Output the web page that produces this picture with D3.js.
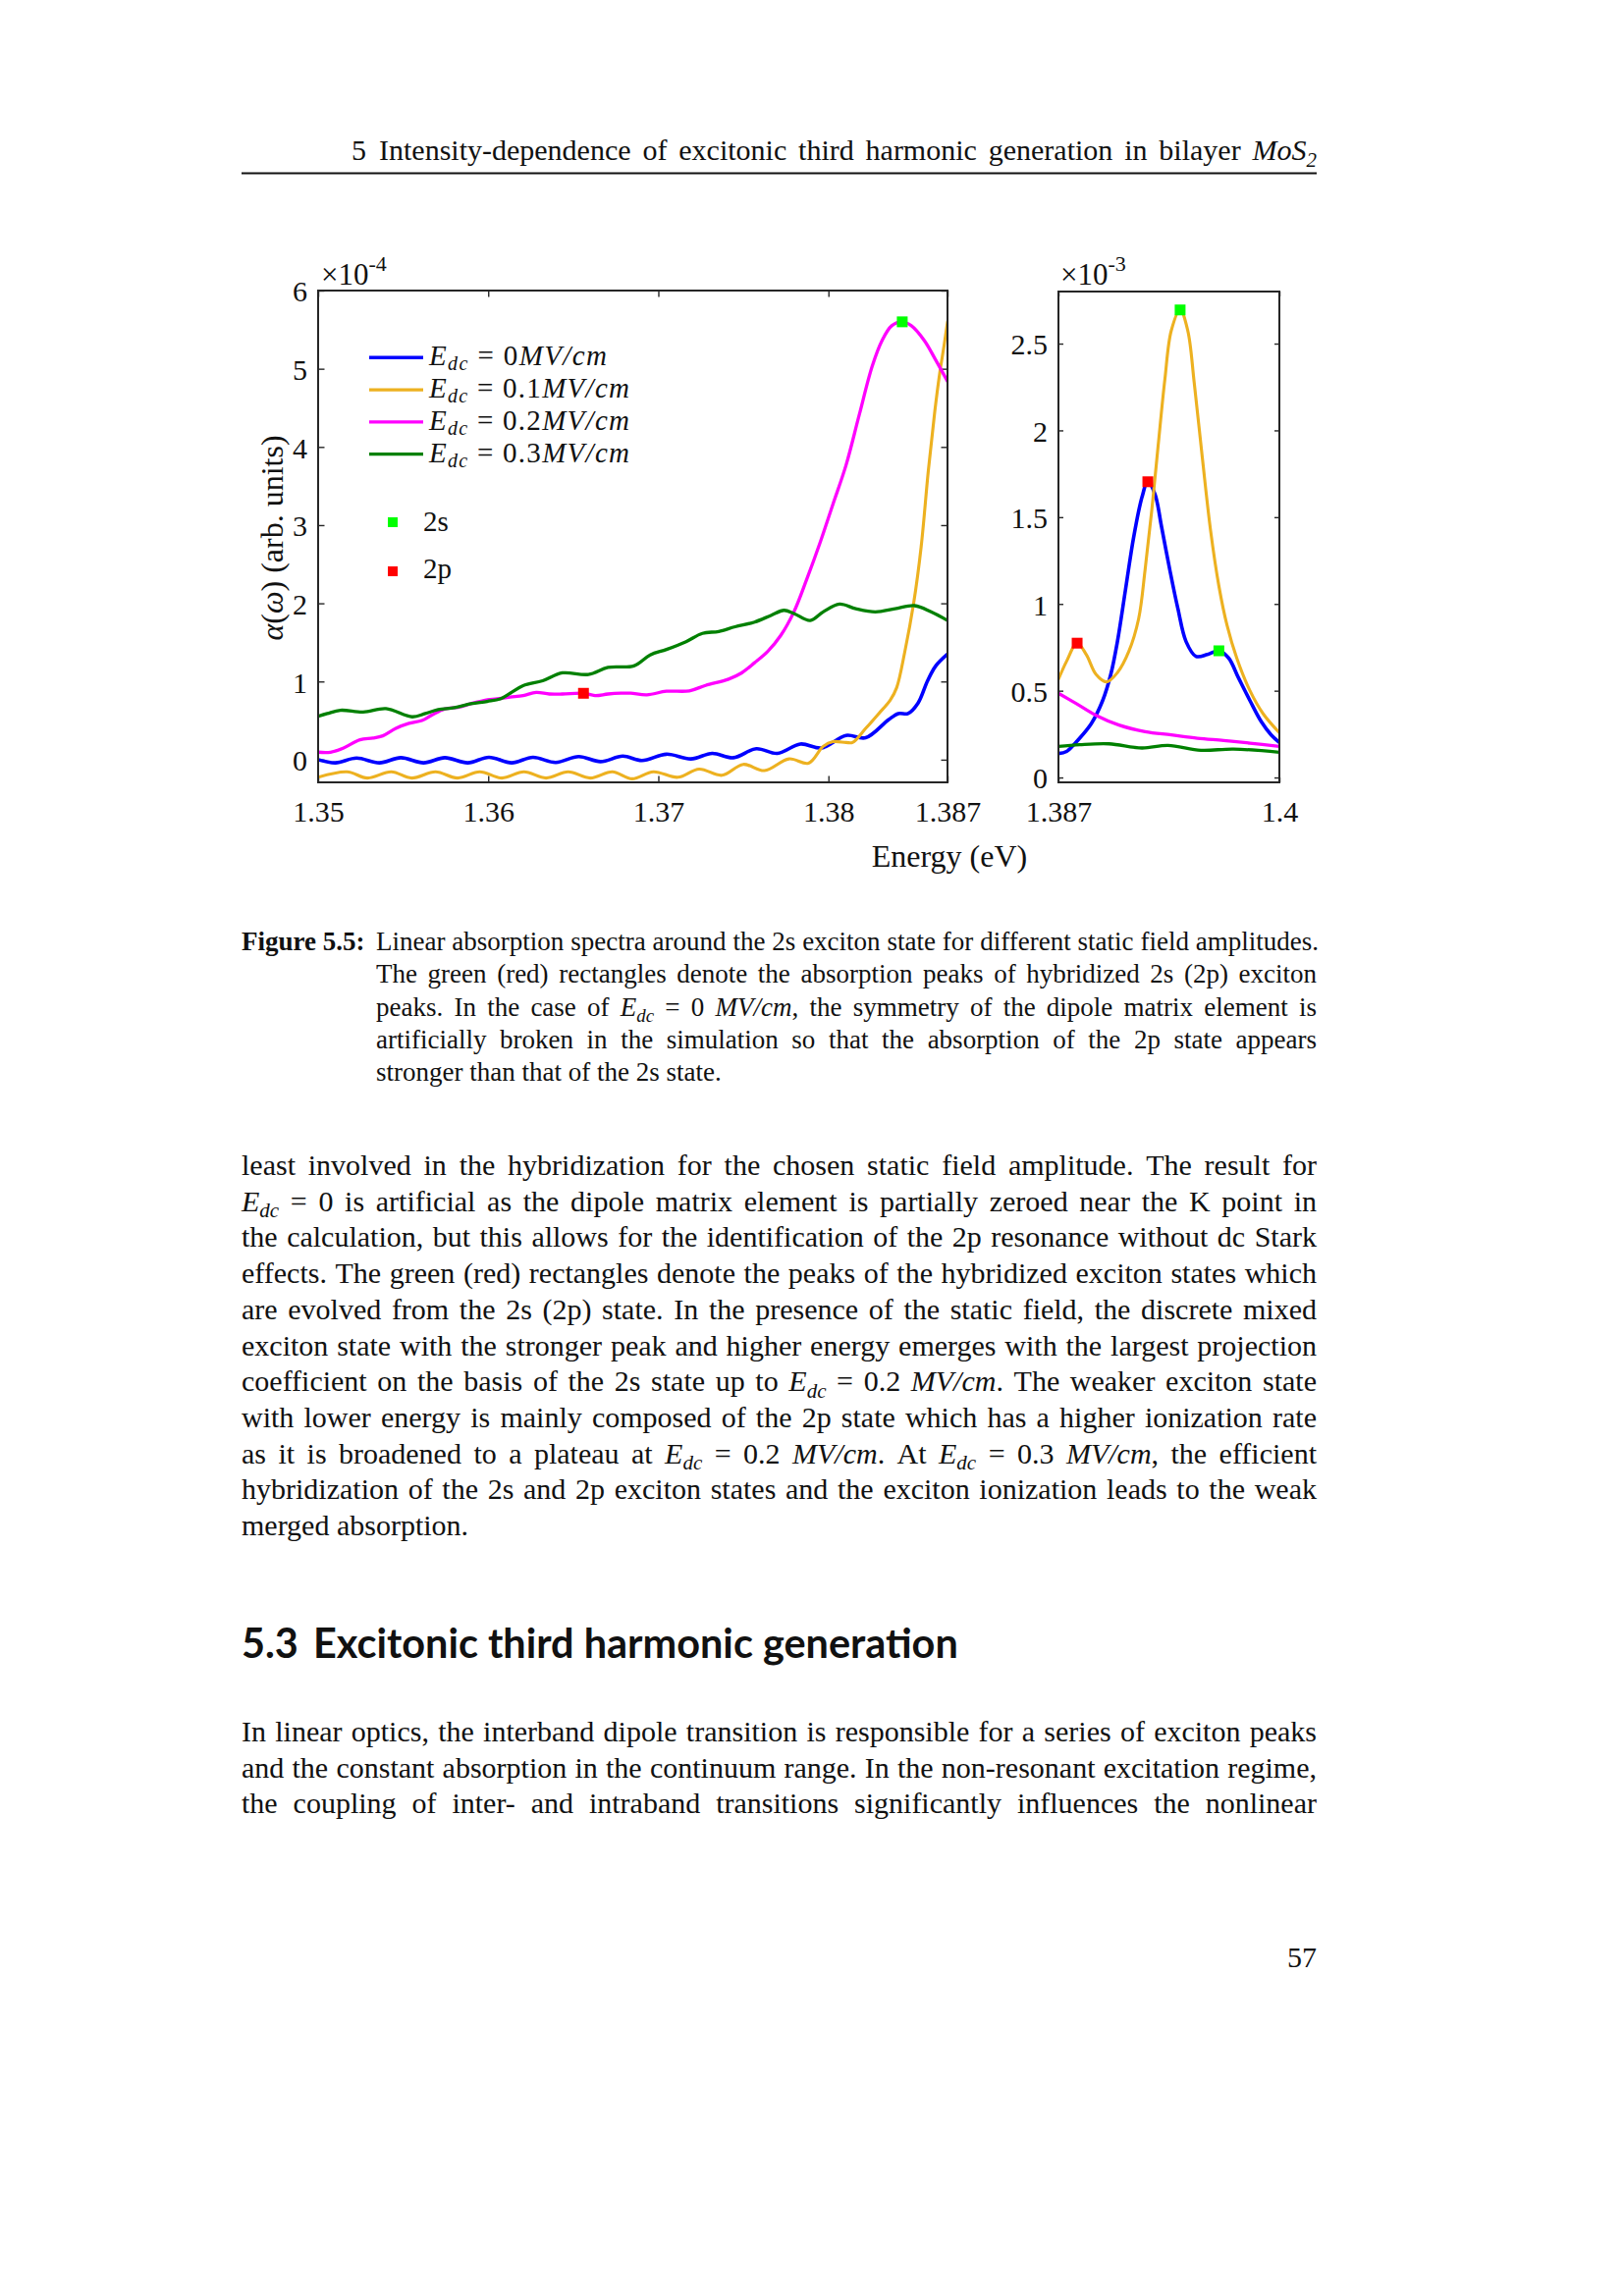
<!DOCTYPE html>
<html><head><meta charset="utf-8">
<script src="https://cdn.jsdelivr.net/npm/d3@7"></script>
<style>body{margin:0;background:#fff}svg{display:block}</style>
</head><body>
<svg id="page" width="1654" height="2339"></svg>
<script>
// ---------------- DATA ----------------
// Left panel (energy in eV, alpha in units of 1e-4)
const blueLeftE = [1.35,1.35102,1.35226,1.35361,1.35486,1.3562,1.35745,1.3588,1.36004,1.36138,1.36263,1.36397,1.36532,1.3666,1.36791,1.36904,1.37048,1.37192,1.37317,1.37441,1.37576,1.377,1.37835,1.3796,1.38104,1.38219,1.38353,1.38411,1.38468,1.38526,1.38583,1.38631,1.387];
const blueLeftV = [0.0,-0.04,0.02,-0.04,0.025,-0.04,0.025,-0.04,0.03,-0.04,0.03,-0.035,0.04,-0.025,0.045,-0.01,0.07,0.01,0.08,0.025,0.14,0.08,0.2,0.15,0.31,0.28,0.51,0.59,0.59,0.72,1.01,1.2,1.35];
const orangeLeftE = [1.35,1.3517,1.3529,1.3543,1.3555,1.3569,1.3582,1.3595,1.3608,1.3621,1.3634,1.3647,1.366,1.3673,1.36846,1.36971,1.37115,1.3724,1.37374,1.37499,1.37624,1.37768,1.37883,1.37969,1.38027,1.38104,1.38142,1.38219,1.38296,1.38363,1.38401,1.38449,1.38501,1.38545,1.38587,1.38625,1.38654,1.3868,1.387];
const orangeLeftV = [-0.225,-0.155,-0.235,-0.155,-0.235,-0.155,-0.235,-0.155,-0.235,-0.155,-0.235,-0.155,-0.235,-0.155,-0.245,-0.155,-0.225,-0.12,-0.2,-0.06,-0.14,0.01,-0.045,0.17,0.23,0.22,0.22,0.4,0.59,0.76,0.92,1.38,2.0,2.72,3.69,4.45,4.94,5.3,5.6];
const magentaLeftE = [1.35,1.35073,1.3515,1.35246,1.35322,1.3538,1.35457,1.35534,1.3561,1.35668,1.35745,1.35821,1.35898,1.35975,1.36052,1.36129,1.36205,1.36282,1.36359,1.36436,1.3656,1.36628,1.36704,1.36781,1.36837,1.36933,1.37048,1.37182,1.37278,1.37413,1.3749,1.37566,1.37643,1.3772,1.37797,1.37873,1.3795,1.38027,1.38104,1.3818,1.38257,1.38315,1.38372,1.38434,1.38488,1.38564,1.38631,1.387];
const magentaLeftV = [0.096,0.096,0.15,0.255,0.276,0.305,0.4,0.464,0.5,0.57,0.65,0.67,0.715,0.757,0.778,0.8,0.82,0.86,0.84,0.84,0.85,0.82,0.84,0.85,0.85,0.83,0.875,0.88,0.95,1.03,1.11,1.24,1.385,1.59,1.89,2.31,2.77,3.27,3.77,4.4,5.03,5.36,5.55,5.6,5.55,5.36,5.11,4.84];
const greenLeftE = [1.35,1.35054,1.35131,1.35265,1.35399,1.35553,1.3563,1.35706,1.35802,1.35898,1.35994,1.36071,1.36129,1.36205,1.3632,1.36436,1.36589,1.36704,1.36856,1.36952,1.37048,1.37163,1.37259,1.37355,1.37451,1.37566,1.37662,1.37739,1.37797,1.37893,1.37969,1.38065,1.38161,1.38276,1.38392,1.38507,1.38603,1.387];
const greenLeftV = [0.556,0.59,0.632,0.61,0.653,0.548,0.59,0.64,0.665,0.715,0.745,0.778,0.85,0.946,1.01,1.11,1.09,1.18,1.2,1.34,1.41,1.51,1.615,1.64,1.7,1.76,1.845,1.91,1.87,1.78,1.89,1.99,1.93,1.89,1.93,1.97,1.89,1.78];

// Right panel (energy in eV, alpha in units of 1e-3)
const blueRightE = [1.387,1.38748,1.38816,1.38893,1.3896,1.39008,1.39047,1.39095,1.39143,1.39191,1.39226,1.39268,1.39307,1.39355,1.39403,1.39451,1.39509,1.39576,1.39644,1.39701,1.39759,1.39827,1.39894,1.39952,1.4];
const blueRightV = [0.138,0.15,0.217,0.31,0.443,0.594,0.783,1.085,1.387,1.613,1.704,1.632,1.443,1.198,0.972,0.783,0.698,0.708,0.73,0.689,0.575,0.443,0.321,0.245,0.202];
const orangeRightE = [1.387,1.38748,1.3881,1.38864,1.38921,1.38983,1.39047,1.39114,1.39172,1.3921,1.39249,1.39287,1.39326,1.39364,1.39416,1.39461,1.39499,1.39547,1.39595,1.39644,1.39692,1.39749,1.39827,1.39904,1.4];
const orangeRightV = [0.566,0.67,0.774,0.708,0.594,0.551,0.604,0.726,0.915,1.198,1.538,1.915,2.292,2.575,2.694,2.575,2.274,1.84,1.425,1.104,0.877,0.689,0.5,0.368,0.258];
const magentaRightE = [1.387,1.38806,1.38921,1.39056,1.3921,1.39364,1.39518,1.39672,1.39827,1.4];
const magentaRightV = [0.485,0.425,0.358,0.302,0.264,0.245,0.226,0.213,0.198,0.179];
const greenRightE = [1.387,1.38825,1.38998,1.39191,1.39345,1.39538,1.3973,1.4];
const greenRightV = [0.179,0.189,0.194,0.17,0.185,0.157,0.164,0.145];

// Peak markers
const peak2sLeftE = [1.38434], peak2sLeftV = [5.6];
const peak2pLeftE = [1.3656],  peak2pLeftV = [0.849];
const peak2sRightE = [1.39416, 1.39644], peak2sRightV = [2.694, 0.73];
const peak2pRightE = [1.3881, 1.39226],  peak2pRightV = [0.774, 1.704];

// Series / legend
const fieldValues = ["0", "0.1", "0.2", "0.3"];
const seriesColors = ["#0000ff", "#edb120", "#ff00ff", "#008000"];
const markerNames = ["2s", "2p"];
const markerColors = ["#00ff00", "#ff0000"];

// Ticks
const leftXTicks = [1.35, 1.36, 1.37, 1.38, 1.387];
const leftXTickLabels = ["1.35", "1.36", "1.37", "1.38", "1.387"];
const leftYTicks = [0, 1, 2, 3, 4, 5, 6];
const leftYTickLabels = ["0", "1", "2", "3", "4", "5", "6"];
const rightXTicks = [1.387, 1.4];
const rightXTickLabels = ["1.387", "1.4"];
const rightYTicks = [0, 0.5, 1, 1.5, 2, 2.5];
const rightYTickLabels = ["0", "0.5", "1", "1.5", "2", "2.5"];

// Page text
const headerNumber = "5";
const headerTitle = "Intensity-dependence of excitonic third harmonic generation in bilayer {i:MoS}{s:2}";
const captionLabel = "{b:Figure} {b:5.5:}";
const captionLines = [
  "Linear absorption spectra around the 2s exciton state for different static field amplitudes.",
  "The green (red) rectangles denote the absorption peaks of hybridized 2s (2p) exciton",
  "peaks. In the case of {i:E}{s:dc} = 0 {i:MV/cm}, the symmetry of the dipole matrix element is",
  "artificially broken in the simulation so that the absorption of the 2p state appears",
  "stronger than that of the 2s state."
];
const bodyLines = [
  "least involved in the hybridization for the chosen static field amplitude. The result for",
  "{i:E}{s:dc} = 0 is artificial as the dipole matrix element is partially zeroed near the K point in",
  "the calculation, but this allows for the identification of the 2p resonance without dc Stark",
  "effects. The green (red) rectangles denote the peaks of the hybridized exciton states which",
  "are evolved from the 2s (2p) state. In the presence of the static field, the discrete mixed",
  "exciton state with the stronger peak and higher energy emerges with the largest projection",
  "coefficient on the basis of the 2s state up to {i:E}{s:dc} = 0.2 {i:MV/cm}. The weaker exciton state",
  "with lower energy is mainly composed of the 2p state which has a higher ionization rate",
  "as it is broadened to a plateau at {i:E}{s:dc} = 0.2 {i:MV/cm}. At {i:E}{s:dc} = 0.3 {i:MV/cm}, the efficient",
  "hybridization of the 2s and 2p exciton states and the exciton ionization leads to the weak",
  "merged absorption."
];
const sectionNumber = "5.3";
const sectionTitle = "Excitonic third harmonic generation";
const body2Lines = [
  "In linear optics, the interband dipole transition is responsible for a series of exciton peaks",
  "and the constant absorption in the continuum range. In the non-resonant excitation regime,",
  "the coupling of inter- and intraband transitions significantly influences the nonlinear"
];
const pageNumber = "57";

// ---------------- DRAWING ----------------
const FAM = "'Liberation Serif','Times New Roman',serif";
const INK = "#111";
const svg = d3.select("#page");
svg.append("rect").attr("width", 1654).attr("height", 2339).attr("fill", "#fff");
const defs = svg.append("defs");

function parseWord(w) {
  const spans = []; const re = /\{(i|s|b):([^}]*)\}/g; let last = 0, m;
  while ((m = re.exec(w))) {
    if (m.index > last) spans.push({t: w.slice(last, m.index), st: ""});
    spans.push({t: m[2], st: m[1]}); last = re.lastIndex;
  }
  if (last < w.length) spans.push({t: w.slice(last), st: ""});
  return spans;
}
function drawToken(g, spans, x, y, fs) {
  const t = g.append("text").attr("x", x).attr("y", y).attr("font-family", FAM)
    .attr("font-size", fs).attr("fill", INK);
  let cur = 0;
  spans.forEach(s => {
    const ts = t.append("tspan").text(s.t);
    const sh = s.st === "s" ? fs * 0.22 : 0;
    if (sh !== cur) { ts.attr("dy", sh - cur); cur = sh; }
    if (s.st === "i" || s.st === "s") ts.attr("font-style", "italic");
    if (s.st === "s") ts.attr("font-size", fs * 0.7);
    if (s.st === "b") ts.attr("font-weight", "bold");
  });
  return t;
}
function drawLine(g, str, x0, x1, y, fs, justify) {
  const words = str.split(" ").filter(Boolean).map(parseWord);
  const nodes = words.map(sp => drawToken(g, sp, 0, y, fs));
  const widths = nodes.map(n => n.node().getComputedTextLength());
  const total = d3.sum(widths);
  const gap = (justify && words.length > 1) ? (x1 - x0 - total) / (words.length - 1) : fs * 0.25;
  let x = x0;
  nodes.forEach((n, i) => { n.attr("x", x); x += widths[i] + gap; });
}

const textG = svg.append("g");
// Running header
drawLine(textG, headerNumber, 358, 380, 163, 30, false);
drawLine(textG, headerTitle, 386, 1341, 163, 30, true);
textG.append("line").attr("x1", 246).attr("x2", 1341).attr("y1", 176.5).attr("y2", 176.5)
  .attr("stroke", INK).attr("stroke-width", 2);

// Caption
const capBase = [968, 1001.3, 1034.7, 1068, 1101.3];
drawLine(textG, captionLabel, 246, 380, capBase[0], 27, false);
captionLines.forEach((l, i) => drawLine(textG, l, 383, i === 0 ? 1343 : 1341, capBase[i], 27, i < captionLines.length - 1));

// Body paragraph
bodyLines.forEach((l, i) => drawLine(textG, l, 246, 1341, 1197 + 36.7 * i, 30, i < bodyLines.length - 1));

// Section heading
const HFAM = "Lato, 'Open Sans', sans-serif";
const st = textG.append("text").attr("x", 319).attr("y", 1689).attr("font-family", HFAM)
  .attr("font-weight", 700).attr("font-size", 34).attr("fill", INK).text(sectionTitle);
const stw = st.node().getComputedTextLength();
const hfs = 34 * 657 / stw;
st.attr("font-size", hfs);
textG.append("text").attr("x", 246).attr("y", 1689).attr("font-family", HFAM)
  .attr("font-weight", 700).attr("font-size", hfs).attr("fill", INK).text(sectionNumber);

body2Lines.forEach((l, i) => drawLine(textG, l, 246, 1341, 1774 + 36.7 * i, 30, true));

textG.append("text").attr("x", 1341).attr("y", 2004).attr("text-anchor", "end")
  .attr("font-family", FAM).attr("font-size", 30).attr("fill", INK).text(pageNumber);

// ---------------- CHART ----------------
const AX = "#262626";
const xL = d3.scaleLinear().domain([1.35, 1.387]).range([324, 965]);
const yL = d3.scaleLinear().domain([-0.29, 6]).range([797, 296]);
const xR = d3.scaleLinear().domain([1.387, 1.4]).range([1078, 1303]);
const yR = d3.scaleLinear().domain([-0.028, 2.8]).range([797, 297]);
const lineWidths = [3.6, 3.1, 3.3, 3.3];

function panel(opt) {
  const {x, y, tl, id} = opt;
  const [x0, x1] = x.range(); const [yb, yt] = y.range();
  defs.append("clipPath").attr("id", id).append("rect")
    .attr("x", x0).attr("y", yt).attr("width", x1 - x0).attr("height", yb - yt);
  const g = svg.append("g");
  const ax = (gen, tx, ty) => {
    const a = g.append("g").attr("transform", `translate(${tx},${ty})`).call(gen);
    a.select(".domain").remove();
    a.selectAll("line").attr("stroke", AX).attr("stroke-width", 1.4);
    a.selectAll("text").attr("font-family", FAM).attr("font-size", 30).attr("fill", INK);
    return a;
  };
  ax(d3.axisBottom(x).tickValues(opt.xt).tickFormat((d, i) => opt.xtl[i]).tickSizeInner(-tl).tickSizeOuter(0).tickPadding(19), 0, yb);
  ax(d3.axisTop(x).tickValues(opt.xt).tickFormat(() => "").tickSizeInner(-tl).tickSizeOuter(0), 0, yt);
  const ly = ax(d3.axisLeft(y).tickValues(opt.yt).tickFormat((d, i) => opt.ytl[i]).tickSizeInner(-tl).tickSizeOuter(0).tickPadding(11), x0, 0);
  ly.selectAll("text").attr("dy", "0.36em");
  ax(d3.axisRight(y).tickValues(opt.yt).tickFormat(() => "").tickSizeInner(-tl).tickSizeOuter(0), x1, 0);

  const lg = g.append("g").attr("clip-path", `url(#${id})`);
  const line = d3.line().x(d => x(d[0])).y(d => y(d[1])).curve(d3.curveCatmullRom.alpha(0.5));
  opt.series.forEach((s, i) => {
    lg.append("path").datum(d3.zip(s[0], s[1])).attr("d", line).attr("fill", "none")
      .attr("stroke", seriesColors[i]).attr("stroke-width", lineWidths[i])
      .attr("stroke-linejoin", "round").attr("stroke-linecap", "round");
  });
  opt.markers.forEach((m, k) => {
    g.selectAll(null).data(d3.zip(m[0], m[1])).join("rect")
      .attr("x", d => x(d[0]) - 5.5).attr("y", d => y(d[1]) - 5.5).attr("width", 11).attr("height", 11)
      .attr("fill", markerColors[k]);
  });
  g.append("rect").attr("x", x0).attr("y", yt).attr("width", x1 - x0).attr("height", yb - yt)
    .attr("fill", "none").attr("stroke", AX).attr("stroke-width", 2);

  const ex = g.append("text").attr("x", x0 + opt.exDx).attr("y", 290).attr("font-family", FAM)
    .attr("font-size", 31).attr("fill", INK);
  ex.append("tspan").text("×10");
  ex.append("tspan").text(opt.exp).attr("font-size", 22).attr("dy", -14);
  return g;
}

panel({id: "clipL", x: xL, y: yL, tl: 6.5, xt: leftXTicks, xtl: leftXTickLabels, yt: leftYTicks, ytl: leftYTickLabels,
  series: [[blueLeftE, blueLeftV], [orangeLeftE, orangeLeftV], [magentaLeftE, magentaLeftV], [greenLeftE, greenLeftV]],
  markers: [[peak2sLeftE, peak2sLeftV], [peak2pLeftE, peak2pLeftV]], exp: "-4", exDx: 3});
panel({id: "clipR", x: xR, y: yR, tl: 5, xt: rightXTicks, xtl: rightXTickLabels, yt: rightYTicks, ytl: rightYTickLabels,
  series: [[blueRightE, blueRightV], [orangeRightE, orangeRightV], [magentaRightE, magentaRightV], [greenRightE, greenRightV]],
  markers: [[peak2sRightE, peak2sRightV], [peak2pRightE, peak2pRightV]], exp: "-3", exDx: 2});

// Legend (inside left panel)
const leg = svg.append("g");
fieldValues.forEach((v, i) => {
  const yy = 364.3 + i * 32.8;
  leg.append("line").attr("x1", 376).attr("x2", 431).attr("y1", yy).attr("y2", yy)
    .attr("stroke", seriesColors[i]).attr("stroke-width", lineWidths[i]);
  const t = leg.append("text").attr("x", 437).attr("y", yy + 8).attr("font-family", FAM)
    .attr("font-size", 29).attr("fill", INK)
    .attr("textLength", i === 0 ? 181 : 204).attr("lengthAdjust", "spacing");
  t.append("tspan").text("E").attr("font-style", "italic");
  t.append("tspan").text("dc").attr("font-style", "italic").attr("font-size", 20).attr("dy", 5);
  t.append("tspan").text(" = " + v).attr("dy", -5);
  t.append("tspan").text("MV/cm").attr("font-style", "italic");
});
markerNames.forEach((n, k) => {
  const yy = [532, 582][k];
  leg.append("rect").attr("x", 395).attr("y", yy - 5).attr("width", 10).attr("height", 10).attr("fill", markerColors[k]);
  leg.append("text").attr("x", 431).attr("y", yy + [9, 7][k]).attr("font-family", FAM)
    .attr("font-size", 29).attr("fill", INK).text(n);
});

// Axis labels
const yl = svg.append("text").attr("transform", "translate(288,548) rotate(-90)")
  .attr("text-anchor", "middle").attr("font-family", FAM).attr("font-size", 32).attr("fill", INK);
yl.append("tspan").text("α").attr("font-style", "italic");
yl.append("tspan").text("(");
yl.append("tspan").text("ω").attr("font-style", "italic");
yl.append("tspan").text(") (arb. units)");
svg.append("text").attr("x", 967).attr("y", 883).attr("text-anchor", "middle")
  .attr("font-family", FAM).attr("font-size", 32).attr("fill", INK).text("Energy (eV)");
</script>
</body></html>
